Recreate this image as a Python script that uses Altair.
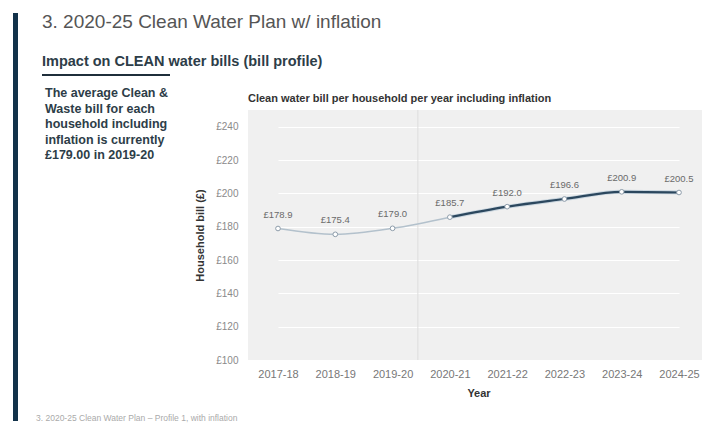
import altair as alt
import pandas as pd

years = ["2017-18", "2018-19", "2019-20", "2020-21", "2021-22", "2022-23", "2023-24", "2024-25"]
bills = [178.9, 175.4, 179.0, 185.7, 192.0, 196.6, 200.9, 200.5]
label_text = ["£178.9", "£175.4", "£179.0", "£185.7", "£192.0", "£196.6", "£200.9", "£200.5"]
hist_years = ["2017-18", "2018-19", "2019-20", "2020-21"]
plan_years = ["2020-21", "2021-22", "2022-23", "2023-24", "2024-25"]
y_ticks = [100, 120, 140, 160, 180, 200, 220, 240]

slide_title = "3. 2020-25 Clean Water Plan w/ inflation"
slide_sub = "Impact on CLEAN water bills (bill profile)"
side_text = ["The average Clean &", "Waste bill for each", "household including",
             "inflation is currently", "£179.00 in 2019-20"]
footer = "3. 2020-25 Clean Water Plan \u2013 Profile 1, with inflation"
chart_title = "Clean water bill per household per year including inflation"

pts = pd.DataFrame({"year": years, "bill": bills, "label": label_text})
rows = []
for y, b in zip(years, bills):
    if y in hist_years:
        rows.append({"year": y, "bill": b, "seg": "hist"})
    if y in plan_years:
        rows.append({"year": y, "bill": b, "seg": "plan"})
lines = pd.DataFrame(rows)

FONT = "Liberation Sans"
W, H = 454, 250

xs = alt.X("year:N", sort=years,
           scale=alt.Scale(type="point", range=[30, 431], padding=0),
           axis=alt.Axis(title="Year", labelAngle=0, labelAlign="center", labelFontSize=11,
                         labelColor="#777777", labelPadding=8, titleFontSize=11,
                         titleFontWeight="bold", titleColor="#333333", titlePadding=8,
                         domain=False, ticks=False, grid=False, labelFont=FONT,
                         titleFont=FONT, labelFlush=False, labelBound=False))
ys = alt.Y("bill:Q", scale=alt.Scale(domain=[100, 250], nice=False, zero=False),
           axis=alt.Axis(title="Household bill (£)", values=y_ticks,
                         labelExpr="'£' + datum.value", labelFontSize=10,
                         labelColor="#8a8a8a", labelPadding=10, domain=False, ticks=False,
                         grid=True, gridColor="#ffffff", gridWidth=1.2, labelOverlap=False,
                         titleFontSize=11, titleFontWeight="bold", titleColor="#333333",
                         titlePadding=10, labelFont=FONT, titleFont=FONT))

divider = alt.Chart(pd.DataFrame({"year": ["2020-21"]})).mark_rule(
    color="#dddddd", strokeWidth=1, xOffset=-32
).encode(x=xs, y=alt.value(0), y2=alt.value(H))

hist_line = alt.Chart(lines[lines.seg == "hist"]).mark_line(
    color="#b3c1cc", strokeWidth=1.6, interpolate="monotone"
).encode(x=xs, y=ys)

plan_halo = alt.Chart(lines[lines.seg == "plan"]).mark_line(
    color="#c9d5de", strokeWidth=4, interpolate="monotone"
).encode(x=xs, y=ys)

plan_line = alt.Chart(lines[lines.seg == "plan"]).mark_line(
    color="#2b475e", strokeWidth=2.2, interpolate="monotone"
).encode(x=xs, y=ys)

points = alt.Chart(pts).mark_point(
    shape="circle", size=22, filled=False, fill="#ffffff", fillOpacity=1,
    stroke="#8d9caa", strokeWidth=1
).encode(x=xs, y=ys)

labels = alt.Chart(pts).mark_text(
    dy=-14, fontSize=9.5, color="#6a6a6a", font=FONT
).encode(x=xs, y=ys, text="label:N")

one = pd.DataFrame({"k": [0]})

def txt(text, x, y, size, color, weight="normal", lh=None, baseline="alphabetic"):
    kw = dict(align="left", baseline=baseline, fontSize=size, color=color,
              fontWeight=weight, font=FONT)
    if lh:
        kw["lineHeight"] = lh
    return alt.Chart(one).mark_text(**kw).encode(
        x=alt.value(x), y=alt.value(y), text=alt.value(text))

t_title = txt(slide_title, -206, -82, 19, "#555555")
t_sub = txt(slide_sub, -206, -44, 14.5, "#2d3d48", weight="bold")
t_side = txt(side_text, -203, -13, 12.5, "#2d3d48", weight="bold", lh=15.5)
t_chart = txt(chart_title, 0, -8, 11, "#333333", weight="bold")
t_foot = txt(footer, -212, 311, 8.5, "#aaaaaa")

underline = alt.Chart(one).mark_rule(color="#1f2f3b", strokeWidth=2).encode(
    x=alt.value(-206), x2=alt.value(-78), y=alt.value(-35))

bar = alt.Chart(one).mark_rect(color="#12324a").encode(
    x=alt.value(-235), x2=alt.value(-230), y=alt.value(-97), y2=alt.value(311))

chart = alt.layer(
    divider, hist_line, plan_halo, plan_line, points, labels,
    t_title, t_sub, underline, t_side, t_chart, t_foot, bar
).properties(
    width=W, height=H,
    autosize=alt.AutoSizeParams(type="none"),
    padding={"left": 248, "top": 110, "right": 0, "bottom": 66},
    background="#ffffff"
).configure_view(
    fill="#f0f0f0", stroke=None
)

chart.save("out.html", embed_options={"renderer": "svg", "actions": False})
